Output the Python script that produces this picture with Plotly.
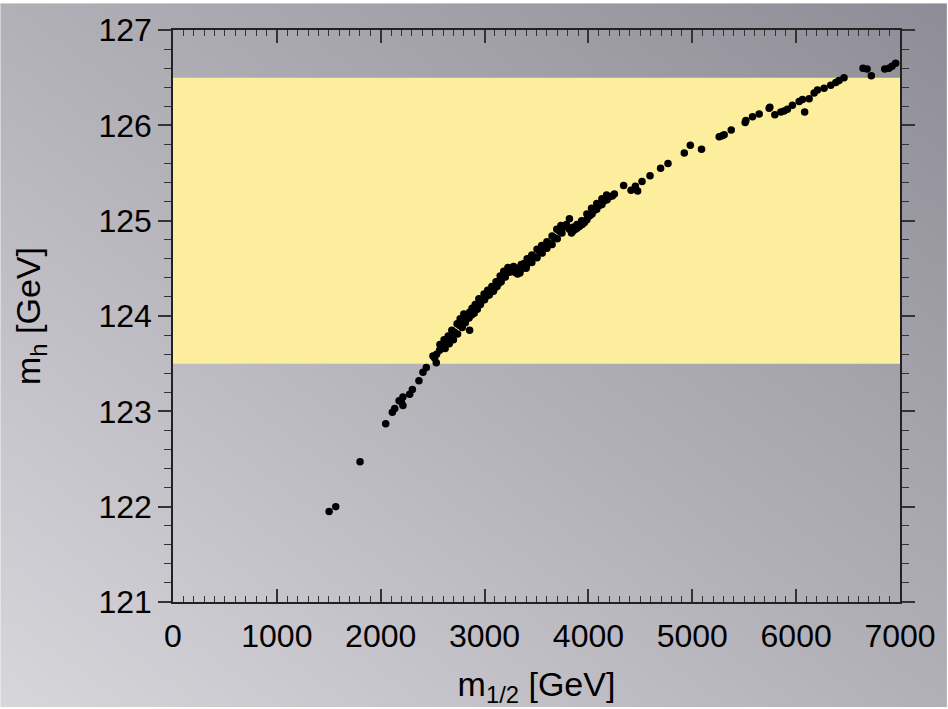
import base64
import plotly.graph_objects as go

# ---- data ----
m_half = [
    1503, 1567, 1801, 2048, 2112, 2135, 2177, 2199, 2214, 2214, 2279, 2305, 2368, 2407, 2439,
    2503, 2535, 2567, 2519, 2538,
    2596, 2635, 2673, 2711, 2760, 2788, 2827, 2856, 2875, 2856, 2904, 2933, 2971, 3019, 3058,
    3096, 3135, 3173, 3211, 3250, 3279, 3317, 3346, 3353, 3375, 3404, 3433, 3481, 3529, 3577,
    3625, 3673, 3721, 3760, 3788, 3817, 3817, 3837, 3875, 3913, 3962, 4010, 4058, 4106, 4154,
    4202, 4250,
    2620, 2660, 2700, 2740, 2785, 2815, 2850, 2900, 2930, 2960, 3000, 3045, 3085, 3120, 3160,
    3200, 3240, 3340, 3400, 3455, 3505, 3555, 3600, 3650, 3700, 3745, 3850, 3890, 3940, 3985,
    4035, 4080, 4130, 4180, 4230,
    2570, 2610, 2650, 2685, 2735, 2765, 2800, 2880, 2910, 2945, 2995, 3030, 3070, 3110, 3150,
    3185, 3225, 3290, 3320, 3380, 3410, 3455, 3505, 3550, 3600, 3650, 3695, 3735, 3850, 3890,
    3935, 3985, 4030, 4080, 4130, 4175,
    4339, 4410, 4452, 4474, 4516, 4593, 4695, 4766, 4923, 4981, 5089, 5259, 5288, 5307, 5375,
    5509, 5516, 5580, 5644, 5740, 5747, 5795, 5853, 5884, 5916, 5964, 6029, 6061, 6082, 6125,
    6173, 6205, 6269, 6333, 6382, 6413, 6461, 6644, 6683, 6724, 6853, 6894, 6923, 6958,
]
m_h = [
    121.95, 122.00, 122.47, 122.87, 122.99, 123.03, 123.11, 123.10, 123.15, 123.06, 123.18, 123.23, 123.32, 123.41, 123.46,
    123.58, 123.51, 123.64, 123.56, 123.60,
    123.68, 123.73, 123.77, 123.83, 123.90, 123.95, 124.00, 124.04, 124.01, 123.85, 124.06, 124.10, 124.16, 124.21, 124.25,
    124.29, 124.34, 124.40, 124.45, 124.49, 124.52, 124.44, 124.48, 124.54, 124.51, 124.53, 124.58, 124.62, 124.68, 124.72,
    124.76, 124.82, 124.89, 124.93, 124.96, 125.02, 124.91, 124.87, 124.91, 124.94, 124.98, 125.05, 125.11, 125.16, 125.21,
    125.25, 125.28,
    123.66, 123.71, 123.75, 123.81, 123.88, 123.93, 123.98, 124.03, 124.07, 124.12, 124.17, 124.22, 124.26, 124.31, 124.36,
    124.41, 124.46, 124.45, 124.50, 124.56, 124.61, 124.66, 124.71, 124.75, 124.81, 124.87, 124.89, 124.92, 124.96, 125.01,
    125.07, 125.12, 125.17, 125.22, 125.26,
    123.70, 123.75, 123.79, 123.85, 123.92, 123.97, 124.02, 124.08, 124.12, 124.18, 124.23, 124.27, 124.31, 124.36, 124.42,
    124.47, 124.51, 124.46, 124.50, 124.55, 124.60, 124.64, 124.70, 124.74, 124.78, 124.84, 124.91, 124.95, 124.93, 124.96,
    125.00, 125.07, 125.13, 125.18, 125.23, 125.27,
    125.37, 125.32, 125.36, 125.31, 125.41, 125.47, 125.55, 125.60, 125.71, 125.79, 125.75, 125.88, 125.89, 125.90, 125.95,
    126.03, 126.05, 126.09, 126.12, 126.18, 126.19, 126.11, 126.14, 126.15, 126.17, 126.21, 126.25, 126.27, 126.14, 126.28,
    126.34, 126.37, 126.39, 126.42, 126.45, 126.47, 126.50, 126.60, 126.59, 126.52, 126.59, 126.60, 126.62, 126.65,
]
band_low, band_high = 123.5, 126.5
x_range = [0, 7000]
y_range = [121, 127]

# ---- background gradient as an SVG image ----
svg = (
    '<svg xmlns="http://www.w3.org/2000/svg" width="948" height="709" '
    'viewBox="0 0 948 709" preserveAspectRatio="none">'
    '<defs><linearGradient id="g" x1="0" y1="1" x2="1" y2="0">'
    '<stop offset="0" stop-color="#D7D6DB"/>'
    '<stop offset="0.5" stop-color="#B2B0B7"/>'
    '<stop offset="1" stop-color="#8E8C96"/>'
    '</linearGradient></defs>'
    '<rect width="948" height="709" fill="url(#g)"/></svg>'
)
svg_uri = "data:image/svg+xml;base64," + base64.b64encode(svg.encode()).decode()

W, H = 948, 709
L, R, T, B = 173, 47, 27, 106
pw, ph = W - L - R, H - T - B

fig = go.Figure()
fig.add_trace(go.Scatter(
    x=m_half, y=m_h, mode="markers",
    marker=dict(color="black", size=7.5, line=dict(width=0)),
    showlegend=False, hoverinfo="x+y",
))

fig.add_shape(type="rect", xref="paper", yref="y", x0=0, x1=1,
              y0=band_low, y1=band_high, fillcolor="#FCEE9C",
              line=dict(width=0), layer="below")

fig.add_layout_image(dict(
    source=svg_uri, xref="paper", yref="paper",
    x=-L / pw, y=1 + T / ph, sizex=W / pw, sizey=H / ph,
    sizing="stretch", xanchor="left", yanchor="top", layer="below",
))

font = dict(family="Liberation Sans, Arial, sans-serif", color="black")
axis_common = dict(
    showgrid=False, zeroline=False, showline=True, linecolor="#222",
    linewidth=1.5, mirror="ticks", tickcolor="#333", tickwidth=1.5,
    tickfont=dict(size=32, **font),
)
fig.update_xaxes(
    range=x_range, dtick=1000, tick0=0, ticks="inside", ticklen=13,
    ticklabelstandoff=5,
    minor=dict(dtick=100, ticks="inside", ticklen=6, tickcolor="#333", tickwidth=1.2),
    title=dict(text="m<sub>1/2</sub> [GeV]", font=dict(size=34, **font), standoff=19),
    **axis_common,
)
fig.update_yaxes(
    range=y_range, dtick=1, tick0=121, ticks="outside", ticklen=13,
    minor=dict(dtick=0.2, ticks="outside", ticklen=7, tickcolor="#333", tickwidth=1.2),
    title=dict(text="m<sub>h</sub> [GeV]", font=dict(size=34, **font), standoff=48),
    **axis_common,
)
fig.update_layout(
    width=W, height=H, margin=dict(l=L, r=R, t=T, b=B),
    paper_bgcolor="rgba(0,0,0,0)", plot_bgcolor="rgba(0,0,0,0)",
)
fig.write_html("out.html")
